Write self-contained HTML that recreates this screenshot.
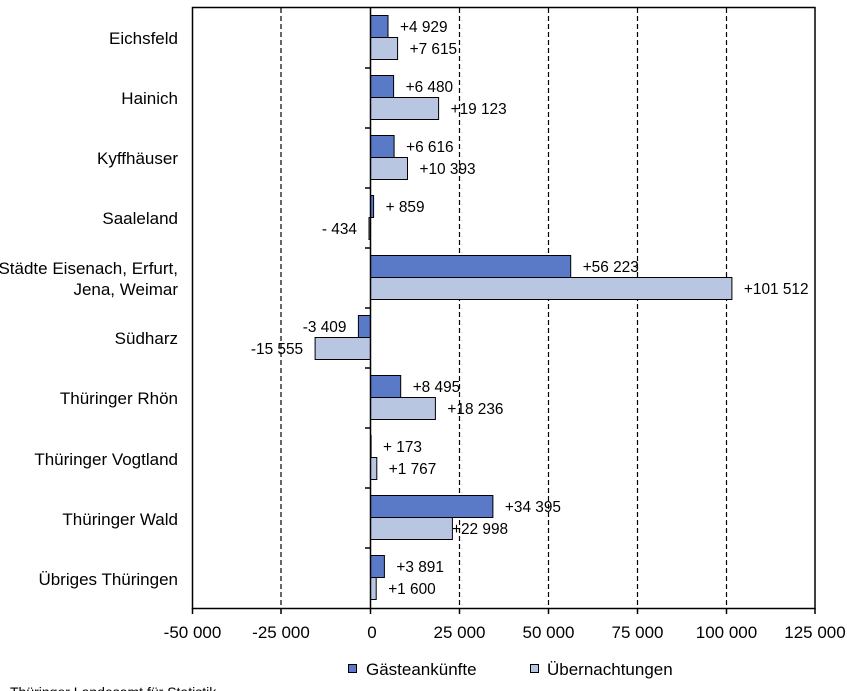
<!DOCTYPE html>
<html><head><meta charset="utf-8"><style>body{margin:0;background:#fff}svg{display:block}text{font-family:"Liberation Sans",Arial,sans-serif;font-size:15.4px;fill:#000}text.b{font-size:17px}text.f{font-size:14px}</style></head><body>
<svg width="847" height="691" viewBox="0 0 847 691" xmlns="http://www.w3.org/2000/svg">
<g stroke="#000" stroke-width="1.2" stroke-dasharray="5,3">
<line x1="281" y1="8" x2="281" y2="608"/><line x1="459.5" y1="8" x2="459.5" y2="608"/><line x1="548.5" y1="8" x2="548.5" y2="608"/><line x1="637.5" y1="8" x2="637.5" y2="608"/><line x1="726.5" y1="8" x2="726.5" y2="608"/>
</g>
<rect x="192.5" y="7.5" width="622.5" height="601" fill="none" stroke="#000" stroke-width="1.5"/>
<g stroke="#000" stroke-width="1">
<rect x="370.5" y="15.5" width="17.5" height="22" fill="#5a79c7"/><rect x="370.5" y="37.5" width="27.1" height="22" fill="#b8c6e2"/>
<rect x="370.5" y="75.5" width="23.1" height="22" fill="#5a79c7"/><rect x="370.5" y="97.5" width="68.1" height="22" fill="#b8c6e2"/>
<rect x="370.5" y="135.5" width="23.6" height="22" fill="#5a79c7"/><rect x="370.5" y="157.5" width="37" height="22" fill="#b8c6e2"/>
<rect x="370.5" y="195.5" width="3.1" height="22" fill="#5a79c7"/><rect x="369" y="217.5" width="1.5" height="22" fill="#b8c6e2"/>
<rect x="370.5" y="255.5" width="200.2" height="22" fill="#5a79c7"/><rect x="370.5" y="277.5" width="361.4" height="22" fill="#b8c6e2"/>
<rect x="358.4" y="315.5" width="12.1" height="22" fill="#5a79c7"/><rect x="315.1" y="337.5" width="55.4" height="22" fill="#b8c6e2"/>
<rect x="370.5" y="375.5" width="30.2" height="22" fill="#5a79c7"/><rect x="370.5" y="397.5" width="64.9" height="22" fill="#b8c6e2"/>
<rect x="370.5" y="435.5" width="0.6" height="22" fill="#5a79c7"/><rect x="370.5" y="457.5" width="6.3" height="22" fill="#b8c6e2"/>
<rect x="370.5" y="495.5" width="122.4" height="22" fill="#5a79c7"/><rect x="370.5" y="517.5" width="81.9" height="22" fill="#b8c6e2"/>
<rect x="370.5" y="555.5" width="13.9" height="22" fill="#5a79c7"/><rect x="370.5" y="577.5" width="5.7" height="22" fill="#b8c6e2"/>
</g>
<g stroke="#000" stroke-width="1.5">
<line x1="370.5" y1="8" x2="370.5" y2="608"/>
<line x1="365" y1="68" x2="370" y2="68"/><line x1="365" y1="128" x2="370" y2="128"/><line x1="365" y1="188" x2="370" y2="188"/><line x1="365" y1="248" x2="370" y2="248"/><line x1="365" y1="308" x2="370" y2="308"/><line x1="365" y1="368" x2="370" y2="368"/><line x1="365" y1="428" x2="370" y2="428"/><line x1="365" y1="488" x2="370" y2="488"/><line x1="365" y1="548" x2="370" y2="548"/>
<line x1="192.5" y1="608" x2="192.5" y2="614"/><line x1="281" y1="608" x2="281" y2="614"/><line x1="370.5" y1="608" x2="370.5" y2="614"/><line x1="459.5" y1="608" x2="459.5" y2="614"/><line x1="548.5" y1="608" x2="548.5" y2="614"/><line x1="637.5" y1="608" x2="637.5" y2="614"/><line x1="726.5" y1="608" x2="726.5" y2="614"/><line x1="815" y1="608" x2="815" y2="614"/>
</g>
<g>
<text x="400" y="32">+4 929</text><text x="409.6" y="54">+7 615</text>
<text x="405.6" y="92">+6 480</text><text x="450.6" y="114">+19 123</text>
<text x="406.1" y="152">+6 616</text><text x="419.5" y="174">+10 393</text>
<text x="385.6" y="212">+ 859</text><text x="357" y="234" text-anchor="end">- 434</text>
<text x="582.7" y="272">+56 223</text><text x="743.9" y="294">+101 512</text>
<text x="346.4" y="332" text-anchor="end">-3 409</text><text x="303.1" y="354" text-anchor="end">-15 555</text>
<text x="412.7" y="392">+8 495</text><text x="447.4" y="414">+18 236</text>
<text x="383" y="452">+ 173</text><text x="388.8" y="474">+1 767</text>
<text x="504.9" y="512">+34 395</text><text x="452" y="534">+22 998</text>
<text x="396.4" y="572">+3 891</text><text x="388.2" y="594">+1 600</text>
</g>
<g text-anchor="end">
<text class="b" x="178" y="44">Eichsfeld</text><text class="b" x="178" y="104">Hainich</text><text class="b" x="178" y="164">Kyffhäuser</text><text class="b" x="178" y="224">Saaleland</text>
<text class="b" x="178" y="274">Städte Eisenach, Erfurt,</text><text class="b" x="178" y="295">Jena, Weimar</text>
<text class="b" x="178" y="344">Südharz</text><text class="b" x="178" y="404">Thüringer Rhön</text><text class="b" x="178" y="465">Thüringer Vogtland</text><text class="b" x="178" y="525">Thüringer Wald</text><text class="b" x="178" y="585">Übriges Thüringen</text>
</g>
<g text-anchor="middle">
<text class="b" x="192.5" y="638">-50 000</text><text class="b" x="281" y="638">-25 000</text><text class="b" x="372" y="638">0</text><text class="b" x="459.5" y="638">25 000</text><text class="b" x="548.5" y="638">50 000</text><text class="b" x="637.5" y="638">75 000</text><text class="b" x="726.5" y="638">100 000</text><text class="b" x="815" y="638">125 000</text>
</g>
<rect x="348.5" y="664.5" width="8" height="8" fill="#5a79c7" stroke="#000"/>
<text class="b" x="366" y="675">Gästeankünfte</text>
<rect x="530.5" y="664.5" width="8" height="8" fill="#b8c6e2" stroke="#000"/>
<text class="b" x="547" y="675">Übernachtungen</text>
<text class="f" x="10" y="697">Thüringer Landesamt für Statistik</text>
</svg>
</body></html>
